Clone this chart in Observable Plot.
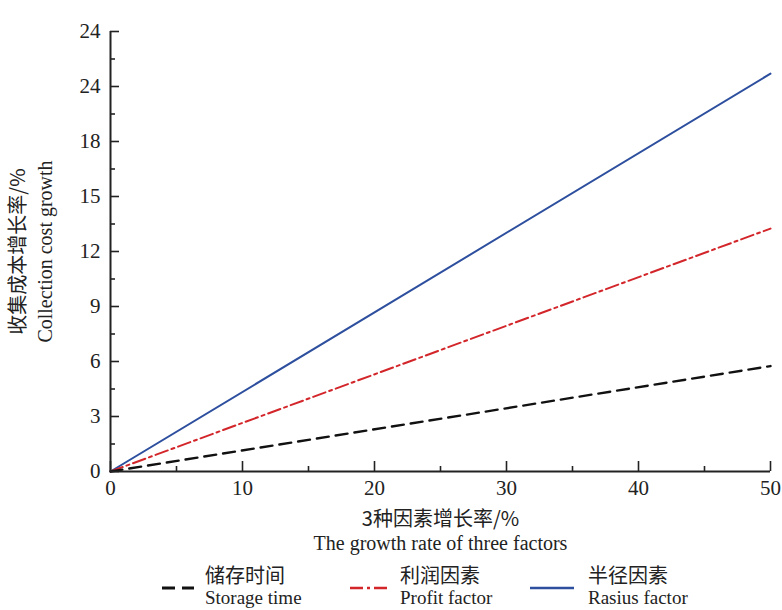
<!DOCTYPE html>
<html><head><meta charset="utf-8">
<script src="https://cdn.jsdelivr.net/npm/d3@7"></script>
<script src="https://cdn.jsdelivr.net/npm/@observablehq/plot@0.6"></script>
<style>
body{margin:0;background:#fff;font-family:"Liberation Serif","Noto Sans CJK SC",serif;color:#222;}
#wrap{width:782px;}
#legend{position:relative;width:782px;height:55px;}
.sw{position:absolute;top:29px;}
.lt{position:absolute;top:7px;}
.zh{font-size:20px;font-family:"Noto Sans CJK SC",serif;display:block;height:26px;line-height:26px;white-space:nowrap;}
.en{font-size:19px;display:block;line-height:20px;white-space:nowrap;}
</style></head><body>
<div id="wrap"><div id="chart"></div><div id="legend"></div></div>
<script>
// data
const growth = [0, 50];
const storageTime = [0, 5.75];
const profitFactor = [0, 13.25];
const radiusFactor = [0, 21.7];
const seriesZh = ["储存时间", "利润因素", "半径因素"];
const seriesEn = ["Storage time", "Profit factor", "Rasius factor"];
const xMajor = [0, 10, 20, 30, 40, 50];
const xMinor = [5, 15, 25, 35, 45];
const yMajor = [0, 3, 6, 9, 12, 15, 18, 21, 24];
const yLabels = ["0", "3", "6", "9", "12", "15", "18", "24", "24"];
const yMinor = [1.5, 4.5, 7.5, 10.5, 13.5, 16.5, 19.5, 22.5];

const colors = ["#111111", "#d3262b", "#2d4f9e"];
const dashes = ["12,7", "13,4,3,4", null];
const widths = [2.4, 2, 2];

const seriesVals = [storageTime, profitFactor, radiusFactor];
const rows = [];
seriesVals.forEach((vals, s) => vals.forEach((v, i) => rows.push({s, x: growth[i], y: v})));

const W = 782, H = 555, mt = 31, mb = 84, ml = 110, mr = 12;
const fw = W - ml - mr, fh = H - mt - mb;

const plot = Plot.plot({
  width: W, height: H,
  marginTop: mt, marginBottom: mb, marginLeft: ml, marginRight: mr,
  style: {fontFamily: '"Liberation Serif","Noto Sans CJK SC",serif', fontSize: "21px", background: "#fff", color: "#222"},
  x: {domain: [0, 50]},
  y: {domain: [0, 24]},
  marks: [
    Plot.axisY({ticks: yMajor, tickSize: 0, tickPadding: 10, fontSize: 21, label: null,
      tickFormat: d => yLabels[yMajor.indexOf(d)]}),
    Plot.axisX({ticks: xMajor, tickSize: 0, tickPadding: 9, fontSize: 21, label: null}),
    Plot.tickY(yMajor, {y: d => d, insetRight: fw - 9, stroke: "#222", strokeWidth: 1.6}),
    Plot.tickY(yMinor, {y: d => d, insetRight: fw - 5, stroke: "#222", strokeWidth: 1.6}),
    Plot.tickX(xMajor, {x: d => d, insetTop: fh - 10, stroke: "#222", strokeWidth: 1.6}),
    Plot.tickX(xMinor, {x: d => d, insetTop: fh - 5, stroke: "#222", strokeWidth: 1.6}),
    ...[2, 1, 0].map(s => Plot.line(rows.filter(r => r.s === s), {
      x: "x", y: "y", stroke: colors[s], strokeWidth: widths[s],
      strokeDasharray: dashes[s] ?? undefined
    })),
    Plot.ruleX([0], {stroke: "#222", strokeWidth: 2}),
    Plot.ruleY([0], {stroke: "#222", strokeWidth: 2}),
    Plot.text(["收集成本增长率/%"], {text: d => d, frameAnchor: "left", textAnchor: "middle", lineAnchor: "middle", rotate: -90, dx: -92, fontSize: 20, fontFamily: '"Noto Sans CJK SC",serif', fill: "#222"}),
    Plot.text(["Collection cost growth"], {text: d => d, frameAnchor: "left", textAnchor: "middle", lineAnchor: "middle", rotate: -90, dx: -65, fontSize: 20, fill: "#222"}),
    Plot.text(["3种因素增长率/%"], {text: d => d, frameAnchor: "bottom", lineAnchor: "middle", dy: 48, fontSize: 20, fontFamily: '"Noto Sans CJK SC",serif', fill: "#222"}),
    Plot.text(["The growth rate of three factors"], {text: d => d, frameAnchor: "bottom", lineAnchor: "middle", dy: 72, fontSize: 20, fill: "#222"})
  ]
});
document.getElementById("chart").appendChild(plot);

// legend
const lg = document.getElementById("legend");
const swX = [162, 350, 530], swW = [32, 40, 44], txX = [205, 400, 588];
seriesZh.forEach((zh, s) => {
  const sv = d3.create("svg").attr("class", "sw").attr("width", swW[s]).attr("height", 8)
    .style("left", swX[s] + "px");
  sv.append("line").attr("x1", 0).attr("x2", swW[s]).attr("y1", 4).attr("y2", 4)
    .attr("stroke", colors[s]).attr("stroke-width", widths[s] + 0.4)
    .attr("stroke-dasharray", s === 0 ? "13,7" : dashes[s]);
  lg.appendChild(sv.node());
  const t = document.createElement("div");
  t.className = "lt"; t.style.left = txX[s] + "px";
  t.innerHTML = `<span class="zh">${zh}</span><span class="en">${seriesEn[s]}</span>`;
  lg.appendChild(t);
});
</script>
</body></html>
